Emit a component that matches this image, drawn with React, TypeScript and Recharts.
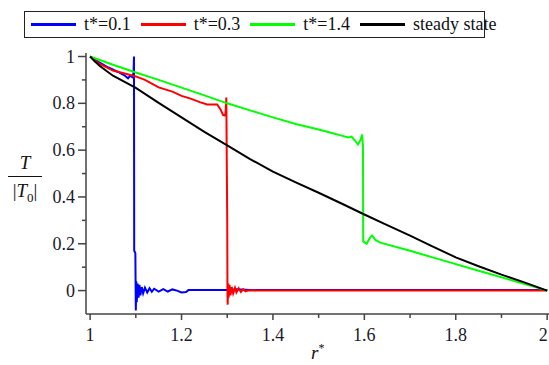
import React from 'react';
import { LineChart, Line, XAxis, YAxis } from 'recharts';

// values
const blueSeries = [
  { x: 1, y: 1 }, { x: 1.02, y: 0.975 }, { x: 1.04, y: 0.953 }, { x: 1.06, y: 0.935 },
  { x: 1.075, y: 0.92 }, { x: 1.083, y: 0.907 }, { x: 1.088, y: 0.918 }, { x: 1.092, y: 0.912 },
  { x: 1.095, y: 0.93 }, { x: 1.096, y: 1.0 }, { x: 1.0965, y: 0.17 }, { x: 1.099, y: 0.16 },
  { x: 1.1, y: -0.085 }, { x: 1.101, y: 0.04 }, { x: 1.102, y: -0.05 }, { x: 1.104, y: 0.03 },
  { x: 1.106, y: -0.03 }, { x: 1.108, y: 0.025 }, { x: 1.11, y: -0.02 }, { x: 1.113, y: 0.015 },
  { x: 1.116, y: -0.012 }, { x: 1.12, y: 0.012 }, { x: 1.125, y: -0.008 }, { x: 1.13, y: 0.01 },
  { x: 1.135, y: -0.005 }, { x: 1.14, y: 0.008 }, { x: 1.15, y: -0.004 }, { x: 1.16, y: 0.006 },
  { x: 1.17, y: -0.004 }, { x: 1.18, y: 0.005 }, { x: 1.19, y: 0.0 }, { x: 1.2, y: -0.008 },
  { x: 1.21, y: -0.006 }, { x: 1.215, y: 0.002 }, { x: 1.3, y: 0.002 }, { x: 1.32, y: 0.006 },
  { x: 1.34, y: 0.004 }, { x: 1.36, y: 0.002 }, { x: 2, y: 0.002 },
];

const redSeries = [
  { x: 1, y: 1 }, { x: 1.02, y: 0.97 }, { x: 1.05, y: 0.94 }, { x: 1.08, y: 0.925 },
  { x: 1.1, y: 0.915 }, { x: 1.12, y: 0.9 }, { x: 1.15, y: 0.868 }, { x: 1.18, y: 0.85 },
  { x: 1.2, y: 0.832 }, { x: 1.22, y: 0.82 }, { x: 1.24, y: 0.805 }, { x: 1.256, y: 0.795 },
  { x: 1.278, y: 0.795 }, { x: 1.285, y: 0.775 }, { x: 1.291, y: 0.75 }, { x: 1.296, y: 0.748 },
  { x: 1.298, y: 0.825 }, { x: 1.299, y: 0.55 }, { x: 1.3, y: 0.3 }, { x: 1.3005, y: 0.0 },
  { x: 1.301, y: -0.06 }, { x: 1.302, y: 0.03 }, { x: 1.303, y: -0.03 }, { x: 1.305, y: 0.025 },
  { x: 1.307, y: -0.02 }, { x: 1.31, y: 0.015 }, { x: 1.313, y: -0.012 }, { x: 1.317, y: 0.012 },
  { x: 1.32, y: -0.008 }, { x: 1.325, y: 0.01 }, { x: 1.33, y: -0.006 }, { x: 1.335, y: 0.006 },
  { x: 1.34, y: -0.003 }, { x: 1.345, y: 0.0 }, { x: 2, y: 0.0 },
];

const greenSeries = [
  { x: 1, y: 1 }, { x: 1.05, y: 0.965 }, { x: 1.1, y: 0.932 }, { x: 1.15, y: 0.9 },
  { x: 1.2, y: 0.867 }, { x: 1.25, y: 0.834 }, { x: 1.3, y: 0.8 }, { x: 1.35, y: 0.77 },
  { x: 1.4, y: 0.74 }, { x: 1.45, y: 0.712 }, { x: 1.5, y: 0.688 }, { x: 1.525, y: 0.675 },
  { x: 1.55, y: 0.662 }, { x: 1.565, y: 0.654 }, { x: 1.572, y: 0.658 }, { x: 1.58, y: 0.64 },
  { x: 1.586, y: 0.624 }, { x: 1.592, y: 0.645 }, { x: 1.595, y: 0.667 }, { x: 1.597, y: 0.62 },
  { x: 1.5975, y: 0.21 }, { x: 1.605, y: 0.2 }, { x: 1.612, y: 0.225 }, { x: 1.617, y: 0.235 },
  { x: 1.625, y: 0.215 }, { x: 1.635, y: 0.205 }, { x: 1.7, y: 0.17 }, { x: 1.77, y: 0.13 },
  { x: 1.85, y: 0.085 }, { x: 1.94, y: 0.034 }, { x: 2, y: 0 },
];

const steadySeries = [
  { x: 1, y: 1 }, { x: 1.01, y: 0.98 }, { x: 1.022, y: 0.958 }, { x: 1.05, y: 0.918 },
  { x: 1.1, y: 0.866 }, { x: 1.15, y: 0.802 }, { x: 1.2, y: 0.74 }, { x: 1.25, y: 0.678 },
  { x: 1.3, y: 0.62 }, { x: 1.35, y: 0.562 }, { x: 1.4, y: 0.508 }, { x: 1.45, y: 0.462 },
  { x: 1.5, y: 0.418 }, { x: 1.55, y: 0.372 }, { x: 1.6, y: 0.325 }, { x: 1.65, y: 0.28 },
  { x: 1.7, y: 0.235 }, { x: 1.75, y: 0.188 }, { x: 1.8, y: 0.142 }, { x: 1.85, y: 0.104 },
  { x: 1.9, y: 0.068 }, { x: 1.95, y: 0.035 }, { x: 2, y: 0 },
];

const xTicks = [1, 1.1, 1.2, 1.3, 1.4, 1.5, 1.6, 1.7, 1.8, 1.9, 2];
const xTickLabels = ['1', '', '1.2', '', '1.4', '', '1.6', '', '1.8', '', '2'];
const yTicks = [0, 0.1, 0.2, 0.3, 0.4, 0.5, 0.6, 0.7, 0.8, 0.9, 1];
const yTickLabels = ['0', '', '0.2', '', '0.4', '', '0.6', '', '0.8', '', '1'];

const legendItems = [
  { name: 't*=0.1', color: '#0000ff' },
  { name: 't*=0.3', color: '#ff0000' },
  { name: 't*=1.4', color: '#00ff00' },
  { name: 'steady state', color: '#000000' },
];

const FONT = 'Liberation Serif, Tinos, DejaVu Serif, serif';
const AXIS = '#444';

const XTick = (props: any) => {
  const { x, y, index } = props;
  const label = xTickLabels[index];
  const len = label ? 6 : 4;
  // last label sits at the right edge, keep it inside the picture
  const tx = index === xTicks.length - 1 ? x - 4 : x;
  return (
    <g>
      <line x1={x} y1={y} x2={x} y2={y + len} stroke={AXIS} strokeWidth={1.5} />
      {label && (
        <text x={tx} y={y + 27} textAnchor="middle" fontSize={18} style={{ fontFamily: FONT }} fill="#1a1a2a">
          {label}
        </text>
      )}
    </g>
  );
};

const YTick = (props: any) => {
  const { x, y, index } = props;
  const label = yTickLabels[index];
  const len = label ? 8 : 4;
  return (
    <g>
      <line x1={x - len} y1={y} x2={x} y2={y} stroke={AXIS} strokeWidth={1.5} />
      {label && (
        <text x={x - 11} y={y + 6} textAnchor="end" fontSize={18} style={{ fontFamily: FONT }} fill="#1a1a2a">
          {label}
        </text>
      )}
    </g>
  );
};

const App: React.FC = () => {
  return (
    <div style={{ position: 'absolute', left: 0, top: 0, width: 549, height: 365, fontFamily: FONT }}>
      <LineChart
        width={549}
        height={365}
        margin={{ top: 53, right: 0, bottom: 0, left: 0 }}
        style={{ fontFamily: FONT }}
      >
        <XAxis
          dataKey="x"
          type="number"
          domain={[0.991, 2.004]}
          ticks={xTicks}
          allowDataOverflow
          height={51}
          tickSize={0}
          tickMargin={0}
          tickLine={false}
          tick={<XTick />}
          axisLine={{ stroke: AXIS, strokeWidth: 1.5 }}
          interval={0}
        />
        <XAxis
          xAxisId="top"
          orientation="top"
          type="number"
          domain={[0.991, 2.004]}
          height={0}
          tick={false}
          tickLine={false}
          axisLine={{ stroke: '#555', strokeWidth: 2 }}
        />
        <YAxis
          dataKey="y"
          type="number"
          domain={[-0.1, 1.015]}
          ticks={yTicks}
          allowDataOverflow
          width={86}
          tickSize={0}
          tickMargin={0}
          tickLine={false}
          tick={<YTick />}
          axisLine={{ stroke: AXIS, strokeWidth: 1.5 }}
          interval={0}
        />
        <Line data={blueSeries} dataKey="y" type="linear" stroke="#0000ff" strokeWidth={2} dot={false} isAnimationActive={false} />
        <Line data={redSeries} dataKey="y" type="linear" stroke="#ff0000" strokeWidth={2} dot={false} isAnimationActive={false} />
        <Line data={greenSeries} dataKey="y" type="linear" stroke="#00ff00" strokeWidth={2} dot={false} isAnimationActive={false} />
        <Line data={steadySeries} dataKey="y" type="linear" stroke="#000000" strokeWidth={2} dot={false} isAnimationActive={false} />
      </LineChart>

      {/* legend box */}
      <div
        style={{
          position: 'absolute', left: 24, top: 11, width: 461, height: 27, boxSizing: 'border-box',
          border: '1.5px solid #222', display: 'flex', alignItems: 'center', paddingLeft: 6,
          fontSize: 18, color: '#111', whiteSpace: 'nowrap',
        }}
      >
        {legendItems.map((item) => (
          <span key={item.name} style={{ display: 'inline-flex', alignItems: 'center', marginRight: 10 }}>
            <span style={{ display: 'inline-block', width: 45, height: 2.5, background: item.color, marginRight: 8 }} />
            <span>{item.name}</span>
          </span>
        ))}
      </div>

      {/* y axis label */}
      <div style={{ position: 'absolute', left: 8, top: 151, width: 34, textAlign: 'center', fontSize: 19, color: '#111' }}>
        <div style={{ fontStyle: 'italic', lineHeight: '23px' }}>T</div>
        <div style={{ borderTop: '1.5px solid #111', margin: '2px 0' }} />
        <div style={{ lineHeight: '23px' }}>
          |<span style={{ fontStyle: 'italic' }}>T</span>
          <sub style={{ fontSize: 13 }}>0</sub>|
        </div>
      </div>

      {/* x axis label */}
      <div style={{ position: 'absolute', left: 311, top: 338, fontSize: 19, color: '#111', lineHeight: '20px' }}>
        <span style={{ fontStyle: 'italic' }}>r</span>
        <sup style={{ fontSize: 12 }}>*</sup>
      </div>
    </div>
  );
};

export default App;
